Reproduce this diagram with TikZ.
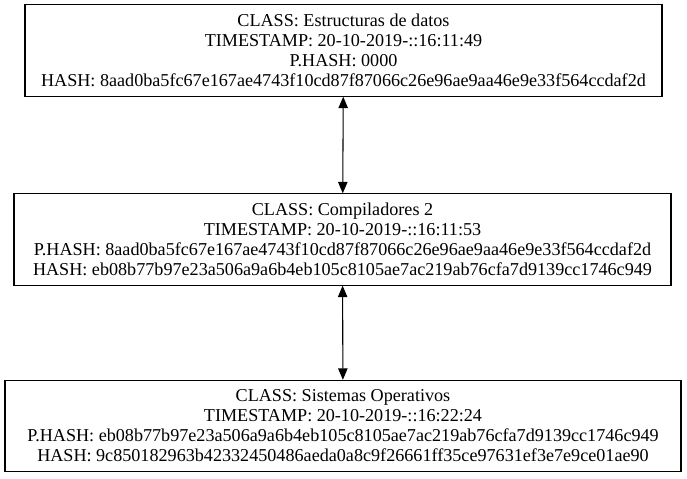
\documentclass[tikz,border=0pt]{standalone}
\usepackage{fontspec}
\setmainfont{Liberation Serif}
\usetikzlibrary{positioning, arrows.meta}

\begin{document}
\begin{tikzpicture}[
    x=0.75pt, y=-0.75pt,
    block/.style={rectangle, draw, line width=0.8pt, inner sep=0pt, align=center,
        font=\fontsize{13.6}{15}\selectfont, minimum height=68.5pt},
    link/.style={line width=0.8pt, {Triangle[length=8.5pt,width=7pt]}-{Triangle[length=8.5pt,width=7pt]}}
]
\useasboundingbox (0,0) rectangle (687,479);

\node[block, minimum width=477.75pt] (b1) at (343.5,50.5)
    {CLASS: Estructuras de datos\\
     TIMESTAMP: 20-10-2019-::16:11:49\\
     P.HASH: 0000\\
     HASH: 8aad0ba5fc67e167ae4743f10cd87f87066c26e96ae9aa46e9e33f564ccdaf2d};
    \node[block, minimum width=492.75pt] (b2) at (342.5,239.5)
    {CLASS: Compiladores 2\\
     TIMESTAMP: 20-10-2019-::16:11:53\\
     P.HASH: 8aad0ba5fc67e167ae4743f10cd87f87066c26e96ae9aa46e9e33f564ccdaf2d\\
     HASH: eb08b77b97e23a506a9a6b4eb105c8105ae7ac219ab76cfa7d9139cc1746c949};
    \node[block, minimum width=507pt] (b3) at (343,426)
    {CLASS: Sistemas Operativos\\
     TIMESTAMP: 20-10-2019-::16:22:24\\
     P.HASH: eb08b77b97e23a506a9a6b4eb105c8105ae7ac219ab76cfa7d9139cc1746c949\\
     HASH: 9c850182963b42332450486aeda0a8c9f26661ff35ce97631ef3e7e9ce01ae90};

\draw[link] (b1) -- (b2);
    \draw[link] (b2) -- (b3);

\end{tikzpicture}
\end{document}
